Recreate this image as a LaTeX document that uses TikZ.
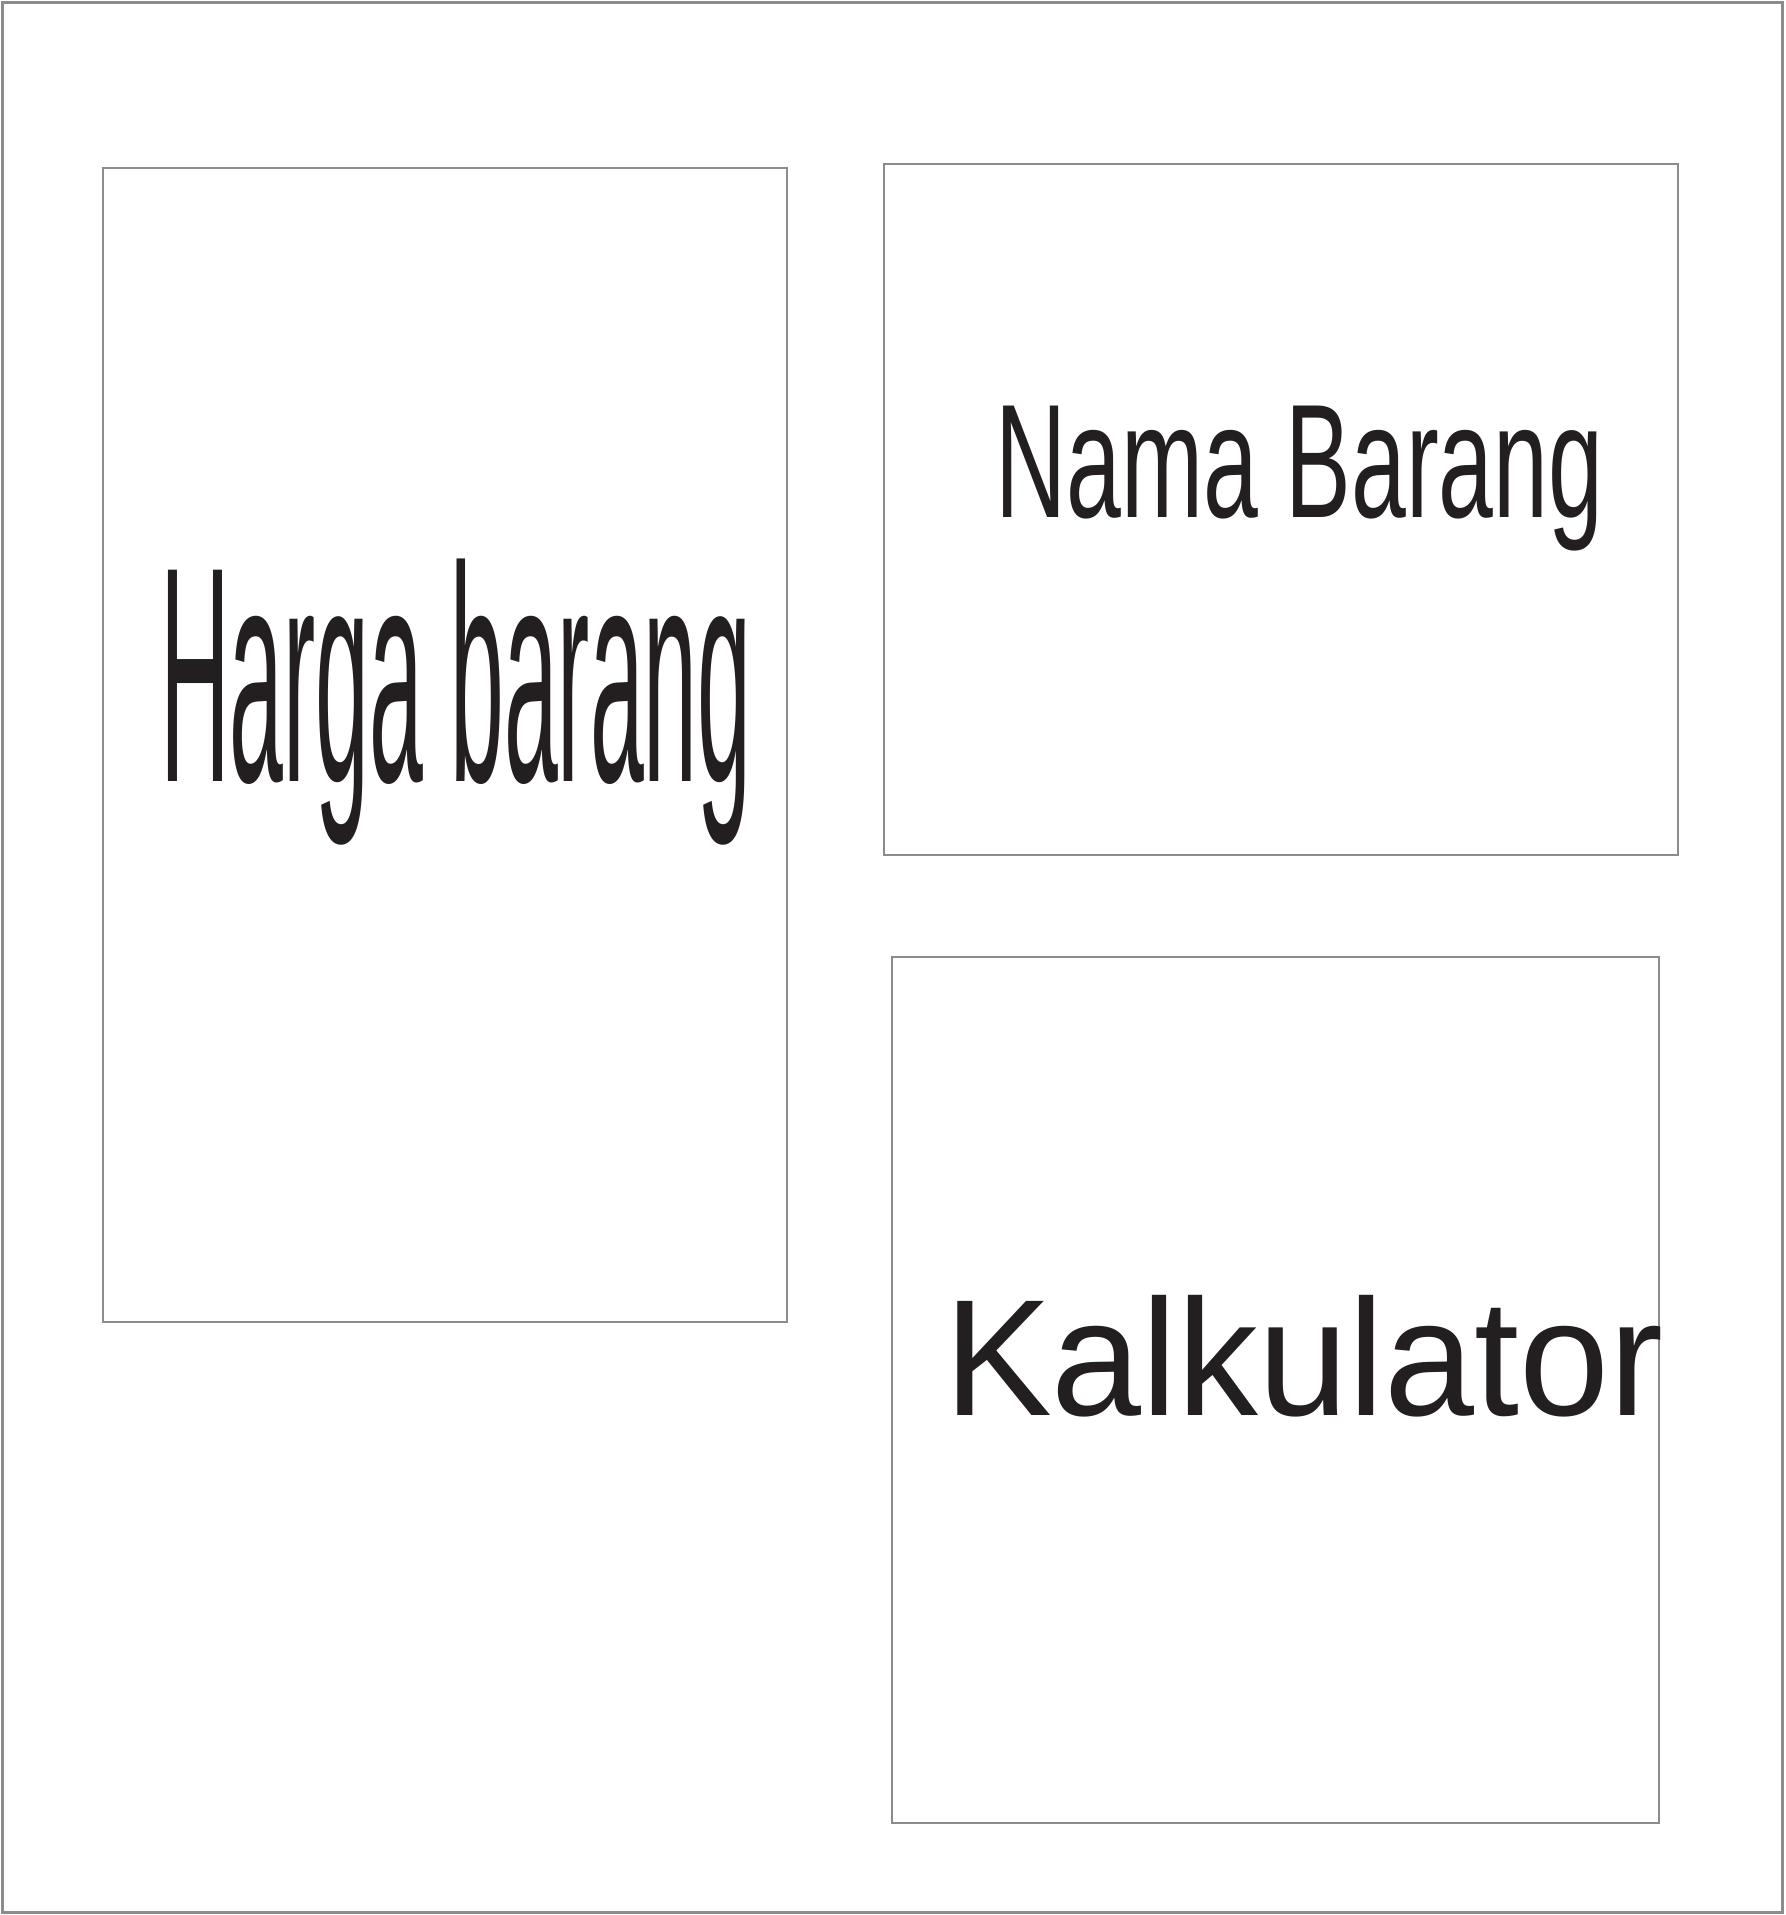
\documentclass[tikz,border=0pt]{standalone}
\usepackage{fontspec}
\setmainfont{Liberation Sans}
\usepackage{tikz}
\usetikzlibrary{positioning}
\definecolor{framegray}{HTML}{8C8C8C}
\definecolor{inkblack}{HTML}{231F20}
\tikzset{
  panel/.style={draw=framegray, line width=0.45pt, inner sep=0pt, outer sep=0pt},
  caption/.style={text=inkblack, inner sep=0pt, outer sep=0pt, anchor=base west}
}
\begin{document}
\begin{tikzpicture}
\useasboundingbox (0,0) rectangle (17.85,-19.15);
\node [panel, line width=0.6pt, minimum width=17.8cm, minimum height=19.1cm] (frame) at (8.925,-9.575) {};
% three boxes
\node [panel, minimum width=6.84cm, minimum height=11.54cm] (harga) at (4.45,-7.45) {};
\node [panel, minimum width=7.94cm, minimum height=6.91cm] (nama) at (12.81,-5.095) {};
\node [panel, minimum width=7.67cm, minimum height=8.66cm] (kalk) at (12.755,-13.90) {};
% texts
\node [caption] (hargatext) at (1.60,-7.81) {\fontsize{87.4pt}{90pt}\selectfont\scalebox{0.315}[1]{Harga barang}};
\node [caption] (namatext) at (9.955,-5.18) {\fontsize{46.1pt}{50pt}\selectfont\scalebox{0.608}[1]{Nama Barang}};
\node [caption] (kalktext) at (9.44,-14.155) {\fontsize{47.2pt}{50pt}\selectfont\scalebox{0.975}[1]{Kalkulator}};
\end{tikzpicture}
\end{document}
